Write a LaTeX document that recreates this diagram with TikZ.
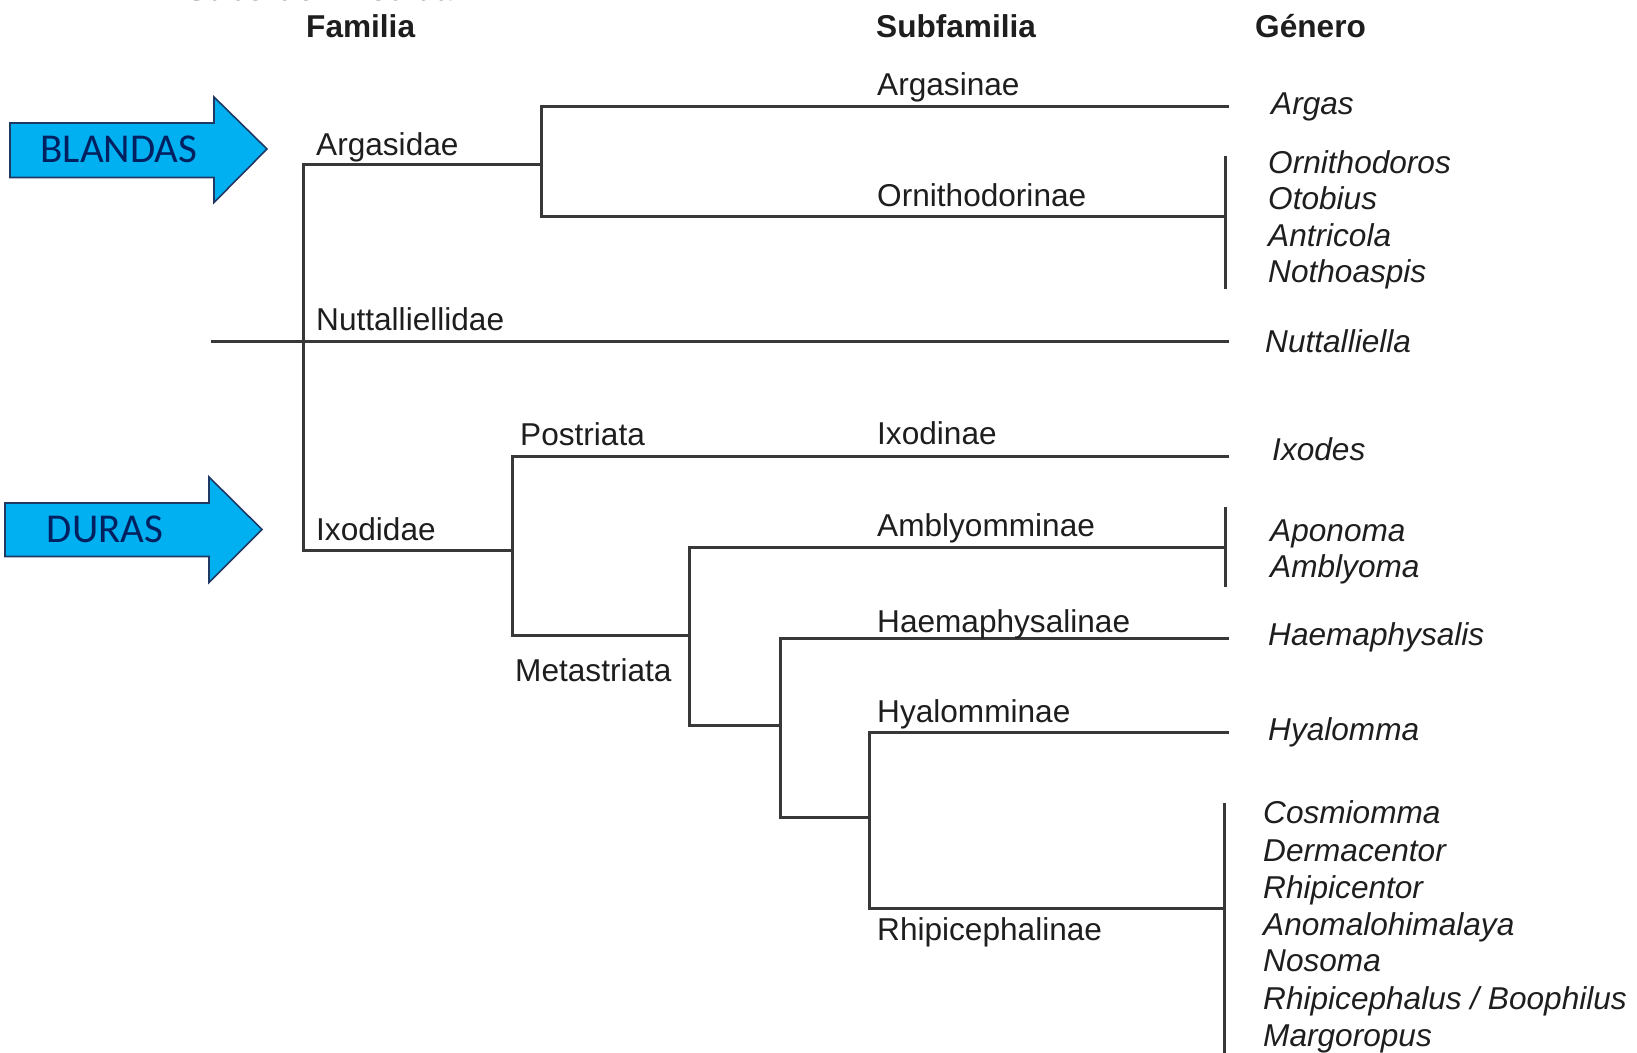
\documentclass[tikz,border=0pt]{standalone}
\usepackage{fontspec}
\setmainfont{Liberation Sans}
\newfontfamily\calib{Carlito}
\definecolor{branch}{HTML}{383838}
\definecolor{txt}{HTML}{1E1E1E}
\definecolor{arrfill}{HTML}{00B0F0}
\definecolor{arrline}{HTML}{1F3864}
\definecolor{arrtxt}{HTML}{002060}
\begin{document}
\begin{tikzpicture}[x=1pt,y=-1pt,
  lab/.style={anchor=base west,inner sep=0pt,text=txt,font=\fontsize{31.6}{36}\selectfont},
  gen/.style={anchor=base west,inner sep=0pt,text=txt,font=\fontsize{31.6}{36}\selectfont\itshape},
  head/.style={anchor=base west,inner sep=0pt,text=txt,font=\fontsize{31.6}{36}\selectfont\bfseries},
  br/.style={draw=branch,line width=3pt,line cap=rect},
  bigarrow/.style={draw=arrline,fill=arrfill,line width=1.6pt,line join=miter},
  arrtext/.style={inner sep=0pt,text=arrtxt,font=\calib\fontsize{41}{48}\selectfont}]
\useasboundingbox (0,0) rectangle (1637,1052);
\begin{scope}
\clip (0,0) rectangle (1637,1052);
% headers
\node[head] (suborden) at (186,0.5) {Suborden Ixodida};
\node[head] (hfam) at (306,37) {Familia};
\node[head] (hsub) at (876,37) {Subfamilia};
\node[head] (hgen) at (1255,37) {Género};

% arrows
\draw[bigarrow] (10,123) -- (214,123) -- (214,97) -- (267,149) -- (214,202.5) -- (214,177.5) -- (10,177.5) -- cycle;
\node[arrtext] (blandas) at (119,149) {BLANDAS};
\draw[bigarrow] (5,503) -- (209,503) -- (209,477) -- (262,529.5) -- (209,582.5) -- (209,556.5) -- (5,556.5) -- cycle;
\node[arrtext] (duras) at (105,529) {DURAS};

% junction coordinates
\coordinate (rtop) at (303,164);
\coordinate (rbot) at (303,550);
\coordinate (ag0) at (541,164);
\coordinate (ag1) at (541,106);
\coordinate (ag2) at (541,216);
\coordinate (agE) at (1227,106);
\coordinate (orE) at (1225,216);
\coordinate (orB1) at (1225,157);
\coordinate (orB2) at (1225,287);
\coordinate (nuS) at (212,341);
\coordinate (nuE) at (1227,341);
\coordinate (ix0) at (512,550);
\coordinate (ix1) at (512,456);
\coordinate (ix2) at (512,635);
\coordinate (ixE) at (1227,456);
\coordinate (me0) at (689,635);
\coordinate (me1) at (689,547);
\coordinate (me2) at (689,725);
\coordinate (amE) at (1225,547);
\coordinate (amB1) at (1225,508);
\coordinate (amB2) at (1225,585);
\coordinate (ha0) at (780,725);
\coordinate (ha1) at (780,638);
\coordinate (ha2) at (780,817);
\coordinate (haE) at (1227,638);
\coordinate (hy0) at (869,817);
\coordinate (hy1) at (869,732);
\coordinate (hy2) at (869,908);
\coordinate (hyE) at (1227,732);
\coordinate (rhE) at (1224,908);
\coordinate (rhB1) at (1224,804);
\coordinate (rhB2) at (1224,1060);

% branches
\draw[br] (rtop) -- (ag0);
\draw[br] (ag1) -- (ag2);
\draw[br] (ag1) -- (agE);
\draw[br] (ag2) -- (orE);
\draw[br] (orB1) -- (orB2);
\draw[br] (rtop) -- (rbot);
\draw[br] (nuS) -- (nuE);
\draw[br] (rbot) -- (ix0);
\draw[br] (ix1) -- (ix2);
\draw[br] (ix1) -- (ixE);
\draw[br] (ix2) -- (me0);
\draw[br] (me1) -- (me2);
\draw[br] (me1) -- (amE);
\draw[br] (amB1) -- (amB2);
\draw[br] (me2) -- (ha0);
\draw[br] (ha1) -- (ha2);
\draw[br] (ha1) -- (haE);
\draw[br] (ha2) -- (hy0);
\draw[br] (hy1) -- (hy2);
\draw[br] (hy1) -- (hyE);
\draw[br] (hy2) -- (rhE);
\draw[br] (rhB1) -- (rhB2);

% family / group labels
\node[lab] (argasidae) at (316,155) {Argasidae};
\node[lab] (nuttalliellidae) at (316,330) {Nuttalliellidae};
\node[lab] (ixodidae) at (316,540) {Ixodidae};
\node[lab] (postriata) at (520,445) {Postriata};
\node[lab] (metastriata) at (515,681) {Metastriata};

% subfamilies
\node[lab] (argasinae) at (877,95) {Argasinae};
\node[lab] (ornithodorinae) at (877,206) {Ornithodorinae};
\node[lab] (ixodinae) at (877,444) {Ixodinae};
\node[lab] (amblyomminae) at (877,536) {Amblyomminae};
\node[lab] (haemaphysalinae) at (877,632) {Haemaphysalinae};
\node[lab] (hyalomminae) at (877,722) {Hyalomminae};
\node[lab] (rhipicephalinae) at (877,940) {Rhipicephalinae};

% genera
\node[gen] (argas) at (1271,114) {Argas};
\node[gen] (ornithodoros) at (1268,173) {Ornithodoros};
\node[gen] (otobius) at (1268,209) {Otobius};
\node[gen] (antricola) at (1268,246) {Antricola};
\node[gen] (nothoaspis) at (1268,282) {Nothoaspis};
\node[gen] (nuttalliella) at (1265,352) {Nuttalliella};
\node[gen] (ixodes) at (1272,460) {Ixodes};
\node[gen] (aponoma) at (1270,541) {Aponoma};
\node[gen] (amblyoma) at (1270,577) {Amblyoma};
\node[gen] (haemaphysalis) at (1268,645) {Haemaphysalis};
\node[gen] (hyalomma) at (1268,740) {Hyalomma};
\node[gen] (cosmiomma) at (1263,823) {Cosmiomma};
\node[gen] (dermacentor) at (1263,861) {Dermacentor};
\node[gen] (rhipicentor) at (1263,898) {Rhipicentor};
\node[gen] (anomalohimalaya) at (1263,935) {Anomalohimalaya};
\node[gen] (nosoma) at (1263,971) {Nosoma};
\node[gen] (rhipicephalus) at (1263,1009) {Rhipicephalus / Boophilus};
\node[gen] (margoropus) at (1263,1046) {Margoropus};
\end{scope}
\end{tikzpicture}
\end{document}
